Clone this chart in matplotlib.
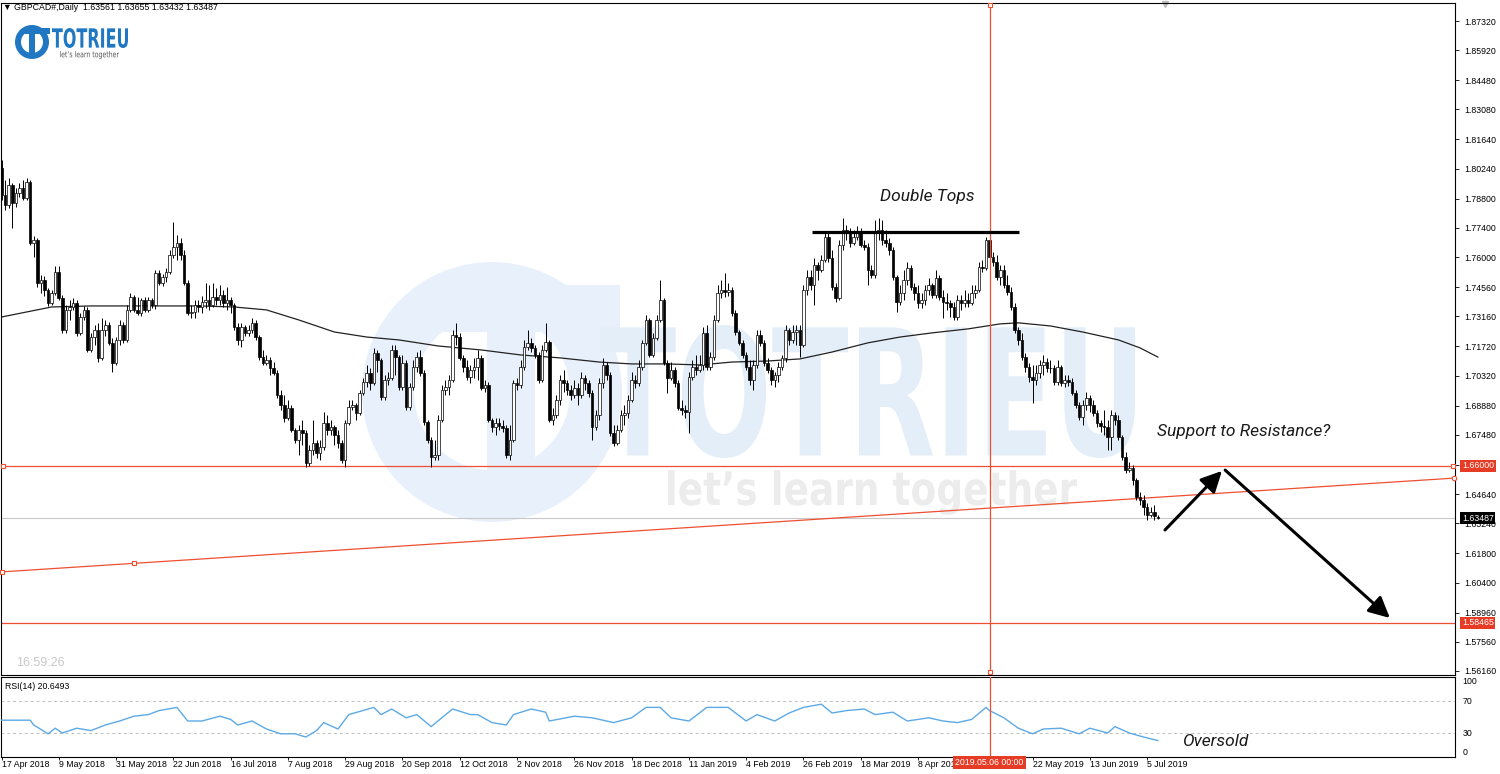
import numpy as np
import matplotlib
matplotlib.use("Agg")
import matplotlib.pyplot as plt
from matplotlib.patches import Wedge, Rectangle, PathPatch
from matplotlib.textpath import TextPath
from matplotlib.font_manager import FontProperties
from matplotlib.transforms import Affine2D, blended_transform_factory

plt.rcParams['font.family'] = ['Liberation Sans', 'DejaVu Sans']

# ---------------- data (GBPCAD daily candles, bar index 0 = 17 Apr 2018) ----------------
opens = [1.8028,1.7898,1.7850,1.7946,1.7860,1.7908,1.7932,1.7884,1.7960,1.7668,
 1.7682,1.7476,1.7490,1.7442,1.7381,1.7428,1.7528,1.7404,1.7251,1.7347,
 1.7361,1.7381,1.7237,1.7313,1.7347,1.7155,1.7217,1.7251,1.7117,1.7251,
 1.7275,1.7189,1.7093,1.7203,1.7275,1.7203,1.7347,1.7408,1.7347,1.7333,
 1.7395,1.7347,1.7395,1.7371,1.7524,1.7476,1.7504,1.7528,1.7610,1.7648,
 1.7668,1.7610,1.7476,1.7333,1.7337,1.7371,1.7361,1.7385,1.7395,1.7371,
 1.7408,1.7395,1.7418,1.7381,1.7395,1.7371,1.7265,1.7203,1.7265,1.7237,
 1.7251,1.7285,1.7217,1.7121,1.7093,1.7107,1.7069,1.7045,1.6939,1.6891,
 1.6829,1.6877,1.6771,1.6723,1.6771,1.6757,1.6613,1.6675,1.6709,1.6661,
 1.6689,1.6805,1.6771,1.6785,1.6747,1.6709,1.6627,1.6805,1.6881,1.6891,
 1.6853,1.6949,1.7001,1.7045,1.6997,1.7141,1.7107,1.6929,1.7011,1.7021,
 1.7155,1.7121,1.6977,1.7093,1.6881,1.6977,1.7073,1.7121,1.7045,1.6809,
 1.6723,1.6641,1.6651,1.6819,1.6963,1.6977,1.7011,1.7227,1.7217,1.7117,
 1.7073,1.7025,1.7059,1.7073,1.7117,1.6973,1.6987,1.6819,1.6785,1.6805,
 1.6790,1.6781,1.6651,1.6723,1.6997,1.6987,1.7073,1.7169,1.7189,1.7165,
 1.7131,1.7011,1.7155,1.7193,1.6819,1.6843,1.6915,1.7011,1.6997,1.6963,
 1.6939,1.6973,1.6939,1.7021,1.6997,1.6949,1.6785,1.6843,1.6997,1.7083,
 1.7035,1.6757,1.6709,1.6771,1.6843,1.6853,1.6915,1.7011,1.6997,1.7073,
 1.7189,1.7299,1.7131,1.7213,1.7299,1.7395,1.7093,1.7021,1.7059,1.6997,
 1.6877,1.6867,1.6857,1.7025,1.7073,1.7059,1.7083,1.7237,1.7073,1.7121,
 1.7299,1.7428,1.7442,1.7432,1.7442,1.7333,1.7241,1.7189,1.7131,1.7073,
 1.7011,1.7083,1.7227,1.7189,1.7093,1.7059,1.7011,1.7035,1.7073,1.7117,
 1.7251,1.7203,1.7241,1.7251,1.7179,1.7442,1.7504,1.7466,1.7562,1.7538,
 1.7586,1.7696,1.7596,1.7456,1.7404,1.7658,1.7730,1.7716,1.7668,1.7696,
 1.7720,1.7658,1.7648,1.7538,1.7514,1.7716,1.7730,1.7682,1.7668,1.7634,
 1.7504,1.7385,1.7428,1.7490,1.7548,1.7456,1.7428,1.7381,1.7395,1.7442,
 1.7466,1.7418,1.7500,1.7408,1.7385,1.7381,1.7361,1.7313,1.7395,1.7381,
 1.7395,1.7381,1.7428,1.7442,1.7552,1.7548,1.7682,1.7600,1.7576,1.7504,
 1.7538,1.7466,1.7432,1.7361,1.7251,1.7203,1.7121,1.7073,1.7025,1.7011,
 1.7045,1.7083,1.7097,1.7069,1.7067,1.7001,1.7073,1.6997,1.7011,1.7001,
 1.6949,1.6891,1.6833,1.6891,1.6925,1.6891,1.6853,1.6805,1.6790,1.6785,
 1.6737,1.6843,1.6819,1.6737,1.6641,1.6579,1.6589,1.6532,1.6451,1.6436,
 1.6402,1.6364,1.6378,1.63561]
closes = [1.7898,1.7850,1.7946,1.7860,1.7908,1.7932,1.7884,1.7960,1.7668,1.7682,
 1.7476,1.7490,1.7442,1.7381,1.7428,1.7528,1.7404,1.7251,1.7347,1.7361,
 1.7381,1.7237,1.7313,1.7347,1.7155,1.7217,1.7251,1.7117,1.7251,1.7275,
 1.7189,1.7093,1.7203,1.7275,1.7203,1.7347,1.7408,1.7347,1.7333,1.7395,
 1.7347,1.7395,1.7371,1.7524,1.7476,1.7504,1.7528,1.7610,1.7648,1.7668,
 1.7610,1.7476,1.7333,1.7337,1.7371,1.7361,1.7385,1.7395,1.7371,1.7408,
 1.7395,1.7418,1.7381,1.7395,1.7371,1.7265,1.7203,1.7265,1.7237,1.7251,
 1.7285,1.7217,1.7121,1.7093,1.7107,1.7069,1.7045,1.6939,1.6891,1.6829,
 1.6877,1.6771,1.6723,1.6771,1.6757,1.6613,1.6675,1.6709,1.6661,1.6689,
 1.6805,1.6771,1.6785,1.6747,1.6709,1.6627,1.6805,1.6881,1.6891,1.6853,
 1.6949,1.7001,1.7045,1.6997,1.7141,1.7107,1.6929,1.7011,1.7021,1.7155,
 1.7121,1.6977,1.7093,1.6881,1.6977,1.7073,1.7121,1.7045,1.6809,1.6723,
 1.6641,1.6651,1.6819,1.6963,1.6977,1.7011,1.7227,1.7217,1.7117,1.7073,
 1.7025,1.7059,1.7073,1.7117,1.6973,1.6987,1.6819,1.6785,1.6805,1.6790,
 1.6781,1.6651,1.6723,1.6997,1.6987,1.7073,1.7169,1.7189,1.7165,1.7131,
 1.7011,1.7155,1.7193,1.6819,1.6843,1.6915,1.7011,1.6997,1.6963,1.6939,
 1.6973,1.6939,1.7021,1.6997,1.6949,1.6785,1.6843,1.6997,1.7083,1.7035,
 1.6757,1.6709,1.6771,1.6843,1.6853,1.6915,1.7011,1.6997,1.7073,1.7189,
 1.7299,1.7131,1.7213,1.7299,1.7395,1.7093,1.7021,1.7059,1.6997,1.6877,
 1.6867,1.6857,1.7025,1.7073,1.7059,1.7083,1.7237,1.7073,1.7121,1.7299,
 1.7428,1.7442,1.7432,1.7442,1.7333,1.7241,1.7189,1.7131,1.7073,1.7011,
 1.7083,1.7227,1.7189,1.7093,1.7059,1.7011,1.7035,1.7073,1.7117,1.7251,
 1.7203,1.7241,1.7251,1.7179,1.7442,1.7504,1.7466,1.7562,1.7538,1.7586,
 1.7696,1.7596,1.7456,1.7404,1.7658,1.7730,1.7716,1.7668,1.7696,1.7720,
 1.7658,1.7648,1.7538,1.7514,1.7716,1.7730,1.7682,1.7668,1.7634,1.7504,
 1.7385,1.7428,1.7490,1.7548,1.7456,1.7428,1.7381,1.7395,1.7442,1.7466,
 1.7418,1.7500,1.7408,1.7385,1.7381,1.7361,1.7313,1.7395,1.7381,1.7395,
 1.7381,1.7428,1.7442,1.7552,1.7548,1.7682,1.7600,1.7576,1.7504,1.7538,
 1.7466,1.7432,1.7361,1.7251,1.7203,1.7121,1.7073,1.7025,1.7011,1.7045,
 1.7083,1.7097,1.7069,1.7067,1.7001,1.7073,1.6997,1.7011,1.7001,1.6949,
 1.6891,1.6833,1.6891,1.6925,1.6891,1.6853,1.6805,1.6790,1.6785,1.6737,
 1.6843,1.6819,1.6737,1.6641,1.6579,1.6589,1.6532,1.6451,1.6436,1.6402,
 1.6364,1.6378,1.6359,1.63487]
highs = [1.8066,1.7970,1.7980,1.7956,1.7932,1.7956,1.7970,1.7980,1.7970,1.7701,
 1.7692,1.7514,1.7509,1.7452,1.7442,1.7557,1.7557,1.7418,1.7371,1.7395,
 1.7404,1.7395,1.7333,1.7366,1.7361,1.7237,1.7275,1.7285,1.7309,1.7299,
 1.7289,1.7213,1.7217,1.7299,1.7289,1.7371,1.7428,1.7418,1.7408,1.7404,
 1.7408,1.7408,1.7404,1.7538,1.7538,1.7519,1.7548,1.7634,1.7768,1.7706,
 1.7692,1.7634,1.7490,1.7371,1.7395,1.7395,1.7413,1.7476,1.7466,1.7476,
 1.7452,1.7466,1.7442,1.7456,1.7408,1.7381,1.7285,1.7285,1.7275,1.7275,
 1.7309,1.7299,1.7227,1.7155,1.7131,1.7121,1.7097,1.7059,1.6963,1.6939,
 1.6915,1.6891,1.6781,1.6795,1.6819,1.6771,1.6699,1.6819,1.6723,1.6723,
 1.6857,1.6843,1.6819,1.6795,1.6771,1.6723,1.6819,1.6915,1.6915,1.6901,
 1.6963,1.7021,1.7083,1.7069,1.7165,1.7155,1.7117,1.7035,1.7049,1.7179,
 1.7179,1.7131,1.7131,1.7107,1.6997,1.7107,1.7145,1.7155,1.7059,1.6819,
 1.6737,1.6723,1.6843,1.6987,1.7011,1.7035,1.7251,1.7285,1.7237,1.7131,
 1.7107,1.7083,1.7117,1.7155,1.7131,1.7011,1.7001,1.6829,1.6829,1.6829,
 1.6819,1.6795,1.6795,1.7011,1.7021,1.7107,1.7203,1.7251,1.7213,1.7179,
 1.7145,1.7179,1.7285,1.7203,1.6877,1.6939,1.7035,1.7059,1.7011,1.6987,
 1.7011,1.6997,1.7049,1.7035,1.7011,1.6963,1.6867,1.7021,1.7117,1.7097,
 1.7049,1.6795,1.6795,1.6867,1.6891,1.6939,1.7049,1.7035,1.7107,1.7203,
 1.7323,1.7309,1.7237,1.7323,1.7490,1.7404,1.7107,1.7097,1.7073,1.7011,
 1.6915,1.6891,1.7049,1.7107,1.7131,1.7131,1.7265,1.7275,1.7145,1.7323,
 1.7466,1.7490,1.7524,1.7476,1.7456,1.7347,1.7251,1.7203,1.7145,1.7107,
 1.7107,1.7251,1.7251,1.7203,1.7117,1.7073,1.7049,1.7097,1.7131,1.7275,
 1.7261,1.7275,1.7275,1.7275,1.7466,1.7538,1.7538,1.7596,1.7576,1.7610,
 1.7720,1.7720,1.7634,1.7476,1.7682,1.7788,1.7754,1.7740,1.7730,1.7749,
 1.7740,1.7682,1.7668,1.7562,1.7778,1.7788,1.7778,1.7730,1.7692,1.7648,
 1.7514,1.7466,1.7538,1.7576,1.7562,1.7476,1.7466,1.7428,1.7466,1.7500,
 1.7476,1.7538,1.7514,1.7442,1.7428,1.7395,1.7385,1.7418,1.7418,1.7442,
 1.7428,1.7466,1.7466,1.7576,1.7586,1.7696,1.7696,1.7624,1.7610,1.7562,
 1.7562,1.7514,1.7456,1.7381,1.7265,1.7237,1.7141,1.7093,1.7083,1.7083,
 1.7107,1.7131,1.7117,1.7107,1.7083,1.7107,1.7083,1.7035,1.7035,1.7021,
 1.6963,1.6905,1.6915,1.6953,1.6939,1.6915,1.6867,1.6819,1.6867,1.6819,
 1.6867,1.6857,1.6843,1.6747,1.6665,1.6617,1.6603,1.6541,1.6474,1.6460,
 1.6422,1.6402,1.6412,1.63655]
lows = [1.7874,1.7826,1.7836,1.7740,1.7840,1.7888,1.7874,1.7874,1.7658,1.7600,
 1.7456,1.7428,1.7413,1.7366,1.7371,1.7418,1.7395,1.7237,1.7237,1.7299,
 1.7347,1.7222,1.7227,1.7299,1.7145,1.7145,1.7179,1.7097,1.7107,1.7222,
 1.7179,1.7049,1.7083,1.7179,1.7189,1.7193,1.7337,1.7337,1.7323,1.7318,
 1.7337,1.7337,1.7357,1.7352,1.7466,1.7461,1.7480,1.7519,1.7596,1.7586,
 1.7586,1.7466,1.7323,1.7309,1.7309,1.7337,1.7333,1.7357,1.7347,1.7361,
 1.7371,1.7371,1.7361,1.7347,1.7333,1.7251,1.7179,1.7169,1.7222,1.7222,
 1.7237,1.7203,1.7107,1.7083,1.7083,1.7035,1.7035,1.6925,1.6867,1.6809,
 1.6819,1.6761,1.6709,1.6651,1.6699,1.6593,1.6598,1.6651,1.6637,1.6627,
 1.6675,1.6747,1.6747,1.6699,1.6685,1.6613,1.6593,1.6795,1.6867,1.6819,
 1.6843,1.6939,1.6977,1.6963,1.6987,1.7049,1.6915,1.6915,1.6987,1.7011,
 1.7035,1.6963,1.6963,1.6867,1.6867,1.6963,1.7049,1.7030,1.6795,1.6709,
 1.6593,1.6627,1.6627,1.6809,1.6939,1.6939,1.7001,1.7179,1.7107,1.7049,
 1.7011,1.6997,1.7021,1.7011,1.6963,1.6953,1.6809,1.6761,1.6747,1.6771,
 1.6761,1.6637,1.6627,1.6713,1.6963,1.6973,1.7059,1.7155,1.7145,1.7117,
 1.6997,1.7001,1.7145,1.6809,1.6795,1.6829,1.6891,1.6953,1.6939,1.6915,
 1.6925,1.6891,1.6925,1.6963,1.6929,1.6723,1.6771,1.6819,1.6973,1.7011,
 1.6742,1.6694,1.6699,1.6761,1.6795,1.6829,1.6905,1.6973,1.6982,1.7059,
 1.7179,1.7121,1.7121,1.7203,1.7289,1.7083,1.6949,1.7011,1.6977,1.6867,
 1.6843,1.6829,1.6757,1.7011,1.7035,1.7049,1.7059,1.7059,1.7059,1.7107,
 1.7289,1.7404,1.7408,1.7413,1.7318,1.7227,1.7179,1.7117,1.7059,1.6987,
 1.6963,1.7069,1.7174,1.7078,1.7045,1.6987,1.6977,1.7001,1.7059,1.7097,
 1.7179,1.7189,1.7179,1.7121,1.7169,1.7418,1.7442,1.7371,1.7490,1.7528,
 1.7576,1.7576,1.7442,1.7385,1.7395,1.7634,1.7682,1.7648,1.7658,1.7682,
 1.7648,1.7634,1.7466,1.7500,1.7500,1.7682,1.7658,1.7648,1.7610,1.7490,
 1.7337,1.7371,1.7395,1.7466,1.7442,1.7395,1.7357,1.7357,1.7371,1.7418,
 1.7404,1.7404,1.7395,1.7309,1.7347,1.7313,1.7299,1.7299,1.7347,1.7361,
 1.7361,1.7371,1.7404,1.7432,1.7528,1.7538,1.7586,1.7557,1.7490,1.7466,
 1.7452,1.7418,1.7347,1.7237,1.7179,1.7107,1.7049,1.7001,1.6901,1.6987,
 1.7021,1.7035,1.7049,1.7045,1.6987,1.6987,1.6982,1.6977,1.6982,1.6939,
 1.6877,1.6819,1.6795,1.6867,1.6857,1.6838,1.6785,1.6761,1.6747,1.6675,
 1.6675,1.6795,1.6723,1.6627,1.6565,1.6570,1.6508,1.6436,1.6412,1.6364,
 1.6340,1.6354,1.6340,1.63432]

# moving average (bar index, value)
ma_bars = [0, 14, 25, 41, 55, 65, 74, 83, 93, 102, 111, 122, 134, 145, 156, 167, 176, 186, 195,
           204, 214, 223, 232, 242, 251, 260, 270, 279, 284, 293, 302, 312, 318, 323]
ma_vals = [1.7313, 1.7361, 1.7366, 1.7366, 1.7366, 1.7361, 1.7347, 1.7299, 1.7241, 1.7217, 1.7203,
           1.7174, 1.7155, 1.7131, 1.7117, 1.7097, 1.7088, 1.7088, 1.7083, 1.7097, 1.7102, 1.7112,
           1.7145, 1.7189, 1.7217, 1.7237, 1.7256, 1.7280, 1.7285, 1.7270, 1.7241, 1.7203, 1.7165, 1.7121]

# RSI(14) (bar index, value)
rsi_bars = [0,6,8,9,13,15,17,21,25,29,33,37,41,44,49,52,56,61,64,66,70,74,78,82,85,88,90,94,97,104,
            106,109,113,116,120,126,131,133,137,141,143,148,152,153,160,165,171,176,180,184,187,192,
            197,203,208,211,216,220,224,229,232,236,241,244,249,253,259,263,267,271,275,276,280,284,
            288,291,296,301,304,309,311,315,319,323]
rsi_vals = [46,46,46,40,29,36,30,36,33,40,45,51,53,58,62,45,45,51,47,40,45,35,29,29,25,33,43,35,53,62,
            53,60,49,53,38,60,53,53,43,40,53,60,56,45,51,49,43,49,62,62,49,45,62,62,45,53,45,55,62,66,
            55,58,60,53,56,45,49,45,43,47,62,58,49,36,29,35,36,29,36,30,38,30,25,20.6]

price_ticks = [1.87320, 1.85920, 1.84480, 1.83080, 1.81640, 1.80240, 1.78800, 1.77400, 1.76000,
               1.74560, 1.73160, 1.71720, 1.70320, 1.68880, 1.67480, 1.66040, 1.64640, 1.63240,
               1.61800, 1.60400, 1.58960, 1.57560, 1.56160]
# the 30 Apr 2019 label is hidden under the highlighted date box in the reference
date_tick_labels = ["17 Apr 2018", "9 May 2018", "31 May 2018", "22 Jun 2018", "16 Jul 2018",
                    "7 Aug 2018", "29 Aug 2018", "20 Sep 2018", "12 Oct 2018", "2 Nov 2018",
                    "26 Nov 2018", "18 Dec 2018", "11 Jan 2019", "4 Feb 2019", "26 Feb 2019",
                    "18 Mar 2019", "8 Apr 2019", "", "22 May 2019", "13 Jun 2019",
                    "5 Jul 2019"]
date_tick_bars = [16 * k for k in range(len(date_tick_labels))]

support_level = 1.66000
target_level = 1.58465
double_top_level = 1.7720
double_top_span = (226.4, 284.2)
trend_bars = [0, 37]
trend_prices = [1.6091, 1.6132]
marked_bar = 276
marked_label = "2019.05.06 00:00"
rsi_now = 20.6493
header = "\u25BC GBPCAD#,Daily  1.63561 1.63655 1.63432 1.63487"

# ---------------- figure ----------------
W, H = 1500, 774
fig = plt.figure(figsize=(W / 100, H / 100), dpi=100)
fig.patch.set_facecolor('white')

def px_axes(x0, y0, x1, y1, **kw):
    return fig.add_axes([x0 / W, 1 - y1 / H, (x1 - x0) / W, (y1 - y0) / H], **kw)

bg = fig.add_axes([0, 0, 1, 1], zorder=0)
bg.set_xlim(0, W)
bg.set_ylim(H, 0)
bg.axis('off')

ax = px_axes(0.5, 3, 1455, 675, zorder=1)
ax.set_facecolor('none')
rax = px_axes(0.5, 677, 1455, 757, zorder=1)
rax.set_facecolor('none')

RED = '#ee4f31'
LBL_RED = '#e63c26'
FS = 6.3

def text_in_box(axis, s, x0, y0, x1, y1, color, weight='bold', zorder=1):
    tp = TextPath((0, 0), s, size=100, prop=FontProperties(family='DejaVu Sans', weight=weight))
    bb = tp.get_extents()
    tr = (Affine2D().translate(-bb.x0, -bb.y0)
          .scale((x1 - x0) / bb.width, -(y1 - y0) / bb.height).translate(x0, y1))
    axis.add_patch(PathPatch(tr.transform_path(tp), facecolor=color, edgecolor='none', zorder=zorder))

# ---- watermark ----
WM = '#e8f1fb'
bg.add_patch(Wedge((492, 392), 130, 0, 360, width=52, facecolor=WM, edgecolor='none'))
bg.add_patch(Rectangle((420, 285), 200, 47, facecolor=WM, edgecolor='none'))
bg.add_patch(Rectangle((487, 332), 48, 183, facecolor=WM, edgecolor='none'))
text_in_box(bg, "TOTRIEU", 600, 325, 1135, 458, '#e4eef9')
text_in_box(bg, "let\u2019s learn together", 668, 470, 1077, 515, '#ececec')

# ---- small logo ----
LOGO = '#1f78c1'
bg.add_patch(Wedge((32, 42), 17, 0, 360, width=6, facecolor=LOGO, edgecolor='none'))
bg.add_patch(Rectangle((22, 28), 28, 6, facecolor=LOGO, edgecolor='none'))
bg.add_patch(Rectangle((29, 34), 6, 24, facecolor=LOGO, edgecolor='none'))
text_in_box(bg, "TOTRIEU", 52, 28, 128, 48, LOGO)
text_in_box(bg, "let\u2019s learn together", 60, 51, 119, 59, '#555555', weight='normal')

bg.text(3, 8, header, fontsize=FS, va='center', ha='left', color='black')
bg.text(16, 663, "16:59:26", fontsize=9, va='center', ha='left', color='#c8c8c8')
bg.plot([1165], [4], marker='v', color='#bbbbbb', ms=5, zorder=5)

# ---- candles ----
o = np.array(opens); c = np.array(closes)
hi = np.maximum(np.array(highs), np.maximum(o, c))
lo = np.minimum(np.array(lows), np.minimum(o, c))
idx = np.arange(len(c))
bull = c >= o
ax.vlines(idx, lo, hi, color='black', lw=0.7, zorder=3)
body_bottom = np.minimum(o, c)
body_h = np.maximum(np.abs(c - o), 0.00012)
ax.bar(idx, body_h, bottom=body_bottom, width=0.72,
       color=np.where(bull, 'white', 'black'), edgecolor='black', linewidth=0.5, zorder=4)

ax.plot(ma_bars, ma_vals, color='#222222', lw=0.9, zorder=2)

XL = (-0.28, 406.0)
ax.set_xlim(*XL)
ax.set_ylim(1.55967, 1.88183)

# levels / lines
ax.axhline(support_level, color=RED, lw=0.9, zorder=2)
ax.axhline(target_level, color=RED, lw=0.9, zorder=2)
ax.axhline(c[-1], color='#c8c8c8', lw=0.8, zorder=1)
ax.axline((trend_bars[0], trend_prices[0]), (trend_bars[1], trend_prices[1]), color=RED, lw=0.9, zorder=2)
ax.axvline(marked_bar, color=RED, lw=0.9, zorder=5)
rax.axvline(marked_bar, color=RED, lw=0.9, zorder=5)
mk = dict(marker='s', mfc='white', mec=RED, ms=3.2, mew=0.8, ls='none', zorder=6, clip_on=False)
ax.plot([0.4, 405.4], [support_level, support_level], **mk)
ax.plot(trend_bars, trend_prices, **mk)
ax.plot([marked_bar, marked_bar], [1.8809, 1.5611], **mk)
slope = (trend_prices[1] - trend_prices[0]) / (trend_bars[1] - trend_bars[0])
ax.plot([405.7], [trend_prices[0] + slope * 405.7], marker='o', mfc='white', mec=RED, ms=3.2,
        mew=0.8, zorder=6, clip_on=False)

ax.hlines(double_top_level, *double_top_span, color='black', lw=2.3, zorder=6)
ANN = dict(family='Roboto', style='italic', fontsize=12.5, color='#1a1a1a')
ax.text(245.4, 1.7893, "Double Tops", ha='left', va='center', zorder=7, **ANN)
ax.text(322.8, 1.6762, "Support to Resistance?", ha='left', va='center', zorder=7, **ANN)
arr = dict(arrowstyle='-|>,head_length=0.9,head_width=0.45', color='black', lw=2.2,
           shrinkA=0, shrinkB=0, mutation_scale=14)
ax.annotate('', xy=(340.9, 1.6575), xytext=(325.0, 1.6292), arrowprops=arr, zorder=7)
ax.annotate('', xy=(387.8, 1.5870), xytext=(341.8, 1.6579), arrowprops=arr, zorder=7)

# axes styling
for a in (ax, rax):
    for s in a.spines.values():
        s.set_color('black'); s.set_linewidth(0.8)
ax.set_xticks([])
ax.yaxis.tick_right()
ax.set_yticks(price_ticks)
ax.set_yticklabels(['%.5f' % v for v in price_ticks])
ax.tick_params(axis='y', labelsize=FS, length=3, width=0.6, pad=4, colors='black')

ytr = blended_transform_factory(ax.transAxes, ax.transData)
def price_label(val, face):
    ax.text(1.0048, val, '%.5f' % val, transform=ytr, ha='left', va='center', fontsize=FS,
            color='white', zorder=8, clip_on=False,
            bbox=dict(facecolor=face, edgecolor='none', boxstyle='square,pad=0.18'))
price_label(support_level, LBL_RED)
price_label(target_level, LBL_RED)
price_label(c[-1], 'black')

# ---- RSI panel ----
rax.plot(rsi_bars, rsi_vals, color='#5da9e6', lw=1.0, zorder=3)
rax.axhline(70, color='#bdbdbd', lw=0.7, ls=(0, (3, 3)))
rax.axhline(30, color='#bdbdbd', lw=0.7, ls=(0, (3, 3)))
rax.set_xlim(*XL)
rax.set_ylim(0, 100)
rax.set_yticks([])
rax.set_xticks(date_tick_bars)
rax.set_xticklabels(date_tick_labels, ha='left')
rax.tick_params(axis='x', labelsize=FS, length=2, width=0.6, pad=0.5)
rtr = blended_transform_factory(rax.transAxes, rax.transData)
for v, txt, va in [(100, '100', 'top'), (70, '70', 'center'), (30, '30', 'center'), (0, '0', 'bottom')]:
    rax.text(1.005, v, txt, transform=rtr, ha='left', va=va, fontsize=FS, clip_on=False)
rax.text(0.003, 0.88, 'RSI(14) %.4f' % rsi_now, transform=rax.transAxes, fontsize=FS, va='center')
rax.text(329.7, 20, "Oversold", ha='left', va='center', zorder=7, **ANN)
xtr = blended_transform_factory(rax.transData, rax.transAxes)
rax.text(marked_bar, -0.065, marked_label, transform=xtr, ha='center', va='center', fontsize=FS,
         color='white', zorder=8, clip_on=False,
         bbox=dict(facecolor=LBL_RED, edgecolor='none', boxstyle='square,pad=0.25'))

fig.savefig('out.png', dpi=100, facecolor='white')
